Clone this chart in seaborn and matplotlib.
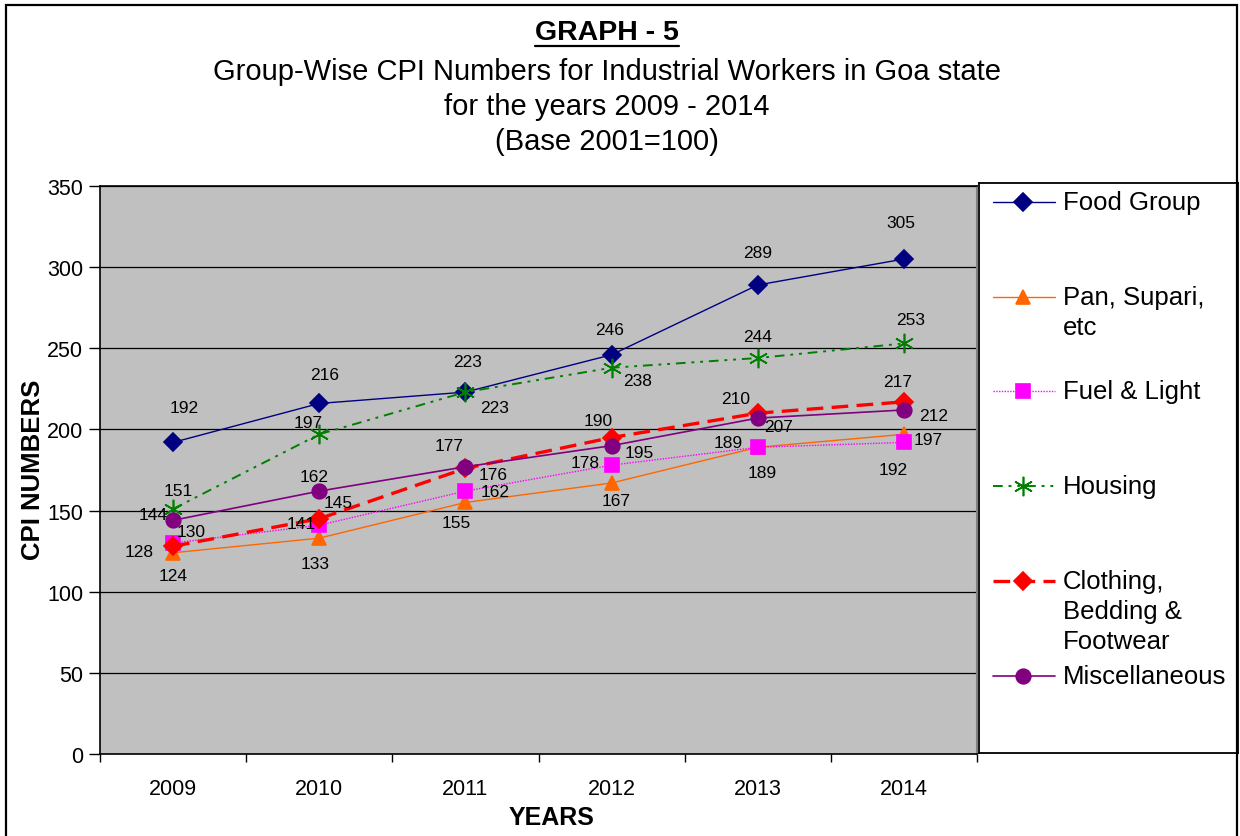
import matplotlib
matplotlib.use('Agg')
import matplotlib.pyplot as plt
from matplotlib.lines import Line2D
from matplotlib.patches import Rectangle
from matplotlib.ticker import FixedLocator
import seaborn as sns
import pandas as pd

# data
years = ['2009', '2010', '2011', '2012', '2013', '2014']
food = [192, 216, 223, 246, 289, 305]
pan = [124, 133, 155, 167, 189, 197]
fuel = [130, 141, 162, 178, 189, 192]
housing = [151, 197, 223, 238, 244, 253]
clothing = [128, 145, 176, 195, 210, 217]
misc = [144, 162, 177, 190, 207, 212]

names = ['Food Group', 'Pan, Supari, etc', 'Fuel & Light', 'Housing',
         'Clothing, Bedding & Footwear', 'Miscellaneous']
legend_lines = [['Food Group'], ['Pan, Supari,', 'etc'], ['Fuel & Light'], ['Housing'],
                ['Clothing,', 'Bedding &', 'Footwear'], ['Miscellaneous']]
values = [food, pan, fuel, housing, clothing, misc]

df = pd.concat([pd.DataFrame({'year': years, 'cpi': v, 'group': n})
                for n, v in zip(names, values)], ignore_index=True)

# styles
styles = {
    'Food Group': dict(color='#000080', marker='D', markersize=9.5, linewidth=1.0, linestyle='-'),
    'Pan, Supari, etc': dict(color='#FF6600', marker='^', markersize=10.5, linewidth=1.0, linestyle='-'),
    'Fuel & Light': dict(color='#FF00FF', marker='s', markersize=9.5, linewidth=1.0, linestyle=(0, (1, 1))),
    'Housing': dict(color='#008000', marker=(6, 2, 0), markersize=14, linewidth=1.4,
                    linestyle=(0, (5, 3, 1.5, 3, 1.5, 3))),
    'Clothing, Bedding & Footwear': dict(color='#FF0000', marker='D', markersize=9.5, linewidth=2.4,
                                         linestyle=(0, (5, 2.5))),
    'Miscellaneous': dict(color='#800080', marker='o', markersize=10.5, linewidth=1.2, linestyle='-'),
}

# label offsets in pixels (dx, dy up)
offsets = {
    'Food Group': [(11, 35), (5, 29), (2, 31), (-2, 25), (0, 32), (-3, 37)],
    'Pan, Supari, etc': [(0, -23), (-4, -25), (-9, -20), (5, -18), (4, -25), (24, -5)],
    'Fuel & Light': [(18, 12), (-18, 2), (30, 0), (-26, 3), (-30, 5), (-11, -27)],
    'Housing': [(5, 18), (-11, 12), (29, -15), (26, -13), (0, 22), (7, 24)],
    'Clothing, Bedding & Footwear': [(-34, -5), (19, 16), (28, -6), (28, -15), (-22, 15), (-6, 20)],
    'Miscellaneous': [(-20, 6), (-5, 15), (-16, 21), (-13, 25), (21, -8), (30, -6)],
}

W, H = 1240, 837
sns.set_style('white')
plt.rcParams['font.family'] = ['Liberation Sans', 'DejaVu Sans']
plt.rcParams['text.color'] = 'black'
plt.rcParams['xtick.color'] = 'black'
plt.rcParams['ytick.color'] = 'black'

fig = plt.figure(figsize=(W / 100, H / 100), dpi=100)
ax = fig.add_axes([100 / W, (H - 755) / H, 877 / W, 568 / H])
ax.set_facecolor('#C0C0C0')

for n in names:
    st = styles[n]
    sns.lineplot(data=df[df['group'] == n], x='year', y='cpi', ax=ax, sort=False,
                 errorbar=None, color=st['color'], marker=st['marker'],
                 markersize=st['markersize'], linewidth=st['linewidth'],
                 linestyle=st['linestyle'], markeredgecolor=st['color'],
                 markerfacecolor=st['color'], markeredgewidth=1.2)

for n, v in zip(names, values):
    for i, val in enumerate(v):
        dx, dy = offsets[n][i]
        ax.annotate(str(val), xy=(i, val), xytext=(dx, dy), textcoords='offset pixels',
                    ha='center', va='center', fontsize=12.5, color='black')

ax.set_xlim(-0.5, 5.5)
ax.set_ylim(0, 350)
ax.set_yticks(range(0, 351, 50))
ax.grid(axis='y', color='black', linewidth=0.9)
ax.grid(axis='x', visible=False)
ax.set_axisbelow(True)
ax.xaxis.set_minor_locator(FixedLocator([i - 0.5 for i in range(7)]))
ax.tick_params(axis='x', which='major', length=0, pad=17, labelsize=15.5, labelcolor='black')
ax.tick_params(axis='x', which='minor', length=6, width=1, direction='out', color='black', bottom=True)
ax.tick_params(axis='y', length=8, width=1, direction='out', color='black', pad=4, labelsize=15.5,
               left=True, labelcolor='black')
ax.set_xlabel('')
ax.set_ylabel('')
for s in ['left', 'bottom', 'top']:
    ax.spines[s].set_color('black')
    ax.spines[s].set_linewidth(1.2)
ax.spines['right'].set_color('#808080')
ax.spines['right'].set_linewidth(1.5)

fig.text(33 / W, 1 - 470 / H, 'CPI NUMBERS', rotation=90, ha='center', va='center',
         fontsize=18.5, fontweight='bold')
fig.text(552 / W, 1 - 818 / H, 'YEARS', ha='center', va='center', fontsize=18, fontweight='bold')

# titles
tx = 607 / W
t1 = fig.text(tx, 1 - 33 / H, 'GRAPH - 5', ha='center', va='center', fontsize=20.5, fontweight='bold')
fig.text(tx, 1 - 72 / H, 'Group-Wise CPI Numbers for Industrial Workers in Goa state',
         ha='center', va='center', fontsize=21)
fig.text(tx, 1 - 107 / H, 'for the years 2009 - 2014', ha='center', va='center', fontsize=21)
fig.text(tx, 1 - 142 / H, '(Base 2001=100)', ha='center', va='center', fontsize=21)

fig.canvas.draw()
bb = t1.get_window_extent()
fig.add_artist(Line2D([bb.x0, bb.x1], [H - 47, H - 47], transform=None, color='black', linewidth=1.6))

# legend box
lax = fig.add_axes([979 / W, (H - 754) / H, 259 / W, 570 / H])
lax.set_xlim(979, 1238)
lax.set_ylim(754, 184)
lax.set_xticks([])
lax.set_yticks([])
for s in lax.spines.values():
    s.set_color('black')
    s.set_linewidth(1.3)
leg_y = [203, 298, 392, 487, 582, 677]
for n, lines, y in zip(names, legend_lines, leg_y):
    st = styles[n]
    lax.plot([993, 1055], [y, y], color=st['color'], linestyle=st['linestyle'],
             linewidth=st['linewidth'])
    lax.plot([1023], [y], marker=st['marker'], color=st['color'], markersize=st['markersize'],
             markeredgecolor=st['color'], markeredgewidth=1.2)
    for k, line in enumerate(lines):
        lax.text(1063, y + 30 * k, line, ha='left', va='center', fontsize=18.5)

# outer border
fig.add_artist(Rectangle((6 / W, -0.02), 1231 / W, 1.02 - 6 / H, transform=fig.transFigure,
                         fill=False, edgecolor='black', linewidth=1.6))

fig.savefig('out.png', dpi=100)
